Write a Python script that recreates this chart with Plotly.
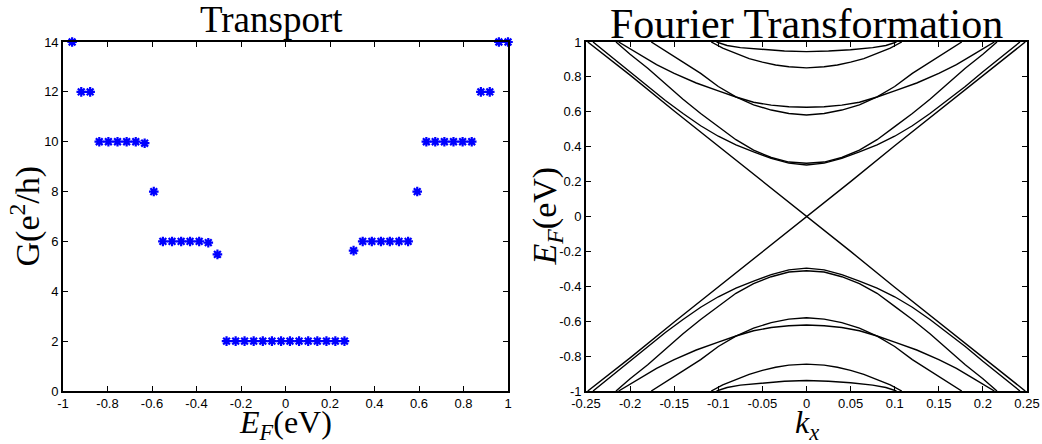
import plotly.graph_objects as go

# ---------------- Left panel: Transport ----------------
ef = [-0.959, -0.918, -0.878, -0.837, -0.796, -0.755, -0.714, -0.673, -0.633,
      -0.592, -0.551, -0.510, -0.469, -0.429, -0.388, -0.347, -0.306,
      -0.265, -0.224, -0.184, -0.143, -0.102, -0.061, -0.020, 0.020, 0.061,
      0.102, 0.143, 0.184, 0.224, 0.265,
      0.306, 0.347, 0.388, 0.429, 0.469, 0.510, 0.551, 0.592,
      0.633, 0.673, 0.714, 0.755, 0.796, 0.837, 0.878, 0.918, 0.959, 1.0]
G = [14, 12, 12, 10, 10, 10, 10, 10, 9.94, 8, 6, 6, 6, 6, 6, 5.95, 5.48,
     2, 2, 2, 2, 2, 2, 2, 2, 2, 2, 2, 2, 2, 2,
     5.63, 6, 6, 6, 6, 6, 6, 8, 10, 10, 10, 10, 10, 10, 12, 12, 14, 14]

x_ticks_left = [-1, -0.8, -0.6, -0.4, -0.2, 0, 0.2, 0.4, 0.6, 0.8, 1]
x_ticklabels_left = ["-1", "-0.8", "-0.6", "-0.4", "-0.2", "0", "0.2", "0.4", "0.6", "0.8", "1"]
y_ticks_left = [0, 2, 4, 6, 8, 10, 12, 14]

# ---------------- Right panel: bands ----------------
k_dirac = [-0.248, -0.2, -0.15, -0.1, -0.05, 0, 0.05, 0.1, 0.15, 0.2, 0.248]
E_dirac_down = [1.0, 0.81, 0.605, 0.405, 0.2, 0, -0.2, -0.405, -0.605, -0.81, -1.0]
E_dirac_up = [-1.0, -0.81, -0.605, -0.405, -0.2, 0, 0.2, 0.405, 0.605, 0.81, 1.0]

kA = [-0.242, -0.22, -0.2, -0.18, -0.16, -0.14, -0.12, -0.1, -0.08, -0.06, -0.04, -0.02, 0,
      0.02, 0.04, 0.06, 0.08, 0.1, 0.12, 0.14, 0.16, 0.18, 0.2, 0.22, 0.242]
EA_up = [1.0, 0.91, 0.83, 0.745, 0.665, 0.59, 0.52, 0.46, 0.41, 0.37, 0.333, 0.306, 0.295,
         0.306, 0.333, 0.37, 0.41, 0.46, 0.52, 0.59, 0.665, 0.745, 0.83, 0.91, 1.0]
EA_dn = [-1.0, -0.91, -0.83, -0.745, -0.665, -0.59, -0.52, -0.46, -0.41, -0.37, -0.333, -0.306, -0.296,
         -0.306, -0.333, -0.37, -0.41, -0.46, -0.52, -0.59, -0.665, -0.745, -0.83, -0.91, -1.0]

kB = [-0.216, -0.2, -0.18, -0.16, -0.14, -0.12, -0.1, -0.08, -0.06, -0.04, -0.02, 0,
      0.02, 0.04, 0.06, 0.08, 0.1, 0.12, 0.14, 0.16, 0.18, 0.2, 0.216]
EB_up = [1.0, 0.93, 0.85, 0.76, 0.672, 0.59, 0.515, 0.44, 0.38, 0.338, 0.312, 0.305,
         0.312, 0.338, 0.38, 0.44, 0.515, 0.59, 0.672, 0.76, 0.85, 0.93, 1.0]
EB_dn = [-1.0, -0.93, -0.85, -0.76, -0.672, -0.59, -0.515, -0.44, -0.385, -0.345, -0.318, -0.311,
         -0.318, -0.345, -0.385, -0.44, -0.515, -0.59, -0.672, -0.76, -0.85, -0.93, -1.0]

kC = [-0.213, -0.19, -0.17, -0.15, -0.125, -0.1, -0.08, -0.06, -0.04, -0.02, 0,
      0.02, 0.04, 0.06, 0.08, 0.1, 0.125, 0.15, 0.17, 0.19, 0.213]
EC_up = [1.0, 0.93, 0.87, 0.82, 0.765, 0.72, 0.685, 0.655, 0.638, 0.629, 0.626,
         0.629, 0.638, 0.655, 0.685, 0.72, 0.765, 0.82, 0.87, 0.93, 1.0]
EC_dn = [-1.0, -0.93, -0.87, -0.82, -0.765, -0.72, -0.685, -0.655, -0.636, -0.626, -0.622,
         -0.626, -0.636, -0.655, -0.685, -0.72, -0.765, -0.82, -0.87, -0.93, -1.0]

kD = [-0.176, -0.16, -0.14, -0.12, -0.1, -0.08, -0.06, -0.04, -0.02, 0,
      0.02, 0.04, 0.06, 0.08, 0.1, 0.12, 0.14, 0.16, 0.176]
ED_up = [1.0, 0.95, 0.885, 0.82, 0.745, 0.685, 0.64, 0.61, 0.59, 0.582,
         0.59, 0.61, 0.64, 0.685, 0.745, 0.82, 0.885, 0.95, 1.0]
ED_dn = [-1.0, -0.95, -0.885, -0.82, -0.745, -0.685, -0.64, -0.608, -0.588, -0.58,
         -0.588, -0.608, -0.64, -0.685, -0.745, -0.82, -0.885, -0.95, -1.0]

kE = [-0.108, -0.095, -0.08, -0.065, -0.05, -0.035, -0.02, 0,
      0.02, 0.035, 0.05, 0.065, 0.08, 0.095, 0.108]
EE_up = [1.0, 0.965, 0.935, 0.905, 0.885, 0.868, 0.858, 0.852,
         0.858, 0.868, 0.885, 0.905, 0.935, 0.965, 1.0]
EE_dn = [-1.0, -0.965, -0.935, -0.905, -0.882, -0.864, -0.852, -0.846,
         -0.852, -0.864, -0.882, -0.905, -0.935, -0.965, -1.0]

kF = [-0.102, -0.09, -0.075, -0.05, -0.025, 0, 0.025, 0.05, 0.075, 0.09, 0.102]
EF_up = [1.0, 0.98, 0.968, 0.956, 0.948, 0.945, 0.948, 0.956, 0.968, 0.98, 1.0]
EF_dn = [-1.0, -0.98, -0.966, -0.953, -0.944, -0.94, -0.944, -0.953, -0.966, -0.98, -1.0]

bands = [
    (k_dirac, E_dirac_down), (k_dirac, E_dirac_up),
    (kA, EA_up), (kA, EA_dn), (kB, EB_up), (kB, EB_dn),
    (kC, EC_up), (kC, EC_dn), (kD, ED_up), (kD, ED_dn),
    (kE, EE_up), (kE, EE_dn), (kF, EF_up), (kF, EF_dn),
]

x_ticks_right = [-0.25, -0.2, -0.15, -0.1, -0.05, 0, 0.05, 0.1, 0.15, 0.2, 0.25]
x_ticklabels_right = ["-0.25", "-0.2", "-0.15", "-0.1", "-0.05", "0", "0.05", "0.1", "0.15", "0.2", "0.25"]
y_ticks_right = [-1, -0.8, -0.6, -0.4, -0.2, 0, 0.2, 0.4, 0.6, 0.8, 1]
y_ticklabels_right = ["-1", "-0.8", "-0.6", "-0.4", "-0.2", "0", "0.2", "0.4", "0.6", "0.8", "1"]

# ---------------- Figure ----------------
W, H = 1042, 444
fig = go.Figure()

fig.add_trace(go.Scatter(
    x=ef, y=G, mode="markers", xaxis="x", yaxis="y", cliponaxis=False,
    marker=dict(symbol="asterisk-open", size=8, color="#0000ff",
                line=dict(color="#0000ff", width=2.2)),
    showlegend=False, hoverinfo="skip"))

for kk, ee in bands:
    fig.add_trace(go.Scatter(
        x=kk, y=ee, mode="lines", xaxis="x2", yaxis="y2",
        line=dict(color="black", width=1.4), showlegend=False, hoverinfo="skip"))

tickfont = dict(family="Liberation Sans Narrow, Liberation Sans, Arial, sans-serif", size=13, color="black")
axis_common = dict(showgrid=False, zeroline=False, showline=True, linecolor="black",
                   linewidth=1.6, mirror="ticks", ticks="inside", ticklen=5,
                   tickcolor="black", tickwidth=1, tickfont=tickfont, automargin=False)

L0, L1 = 63 / W, 508 / W
R0, R1 = 586 / W, 1027 / W
B0, B1 = 1 - 391 / H, 1 - 42 / H

fig.update_layout(
    width=W, height=H, margin=dict(l=0, r=0, t=0, b=0),
    paper_bgcolor="white", plot_bgcolor="white",
    xaxis=dict(domain=[L0, L1], range=[-1, 1], tickvals=x_ticks_left,
               ticktext=x_ticklabels_left, anchor="y", **axis_common),
    yaxis=dict(domain=[B0, B1], range=[0, 14], tickvals=y_ticks_left,
               anchor="x", **axis_common),
    xaxis2=dict(domain=[R0, R1], range=[-0.25, 0.25], tickvals=x_ticks_right,
                ticktext=x_ticklabels_right, anchor="y2", **axis_common),
    yaxis2=dict(domain=[B0, B1], range=[-1, 1], tickvals=y_ticks_right,
                ticktext=y_ticklabels_right, anchor="x2", **axis_common),
)

serif = "Liberation Serif, Times New Roman, serif"
annos = [
    dict(text="Transport", x=271 / W, y=1 - 20 / H, size=37, angle=0),
    dict(text="Fourier Transformation", x=(R0 + R1) / 2, y=1 - 24 / H, size=42, angle=0),
    dict(text="<i>E</i><sub><i>F</i></sub>(eV)", x=(L0 + L1) / 2, y=1 - 424 / H, size=32, angle=0),
    dict(text="<i>k</i><sub><i>x</i></sub>", x=(R0 + R1) / 2, y=1 - 424 / H, size=32, angle=0),
    dict(text="G(e<sup>2</sup>/h)", x=25 / W, y=(B0 + B1) / 2, size=34, angle=-90),
    dict(text="<i>E</i><sub><i>F</i></sub>(eV)", x=547 / W, y=(B0 + B1) / 2, size=34, angle=-90),
]
for a in annos:
    fig.add_annotation(text=a["text"], x=a["x"], y=a["y"], xref="paper", yref="paper",
                       xanchor="center", yanchor="middle", showarrow=False,
                       textangle=a["angle"], font=dict(family=serif, size=a["size"], color="black"))

fig.write_html("out.html")
